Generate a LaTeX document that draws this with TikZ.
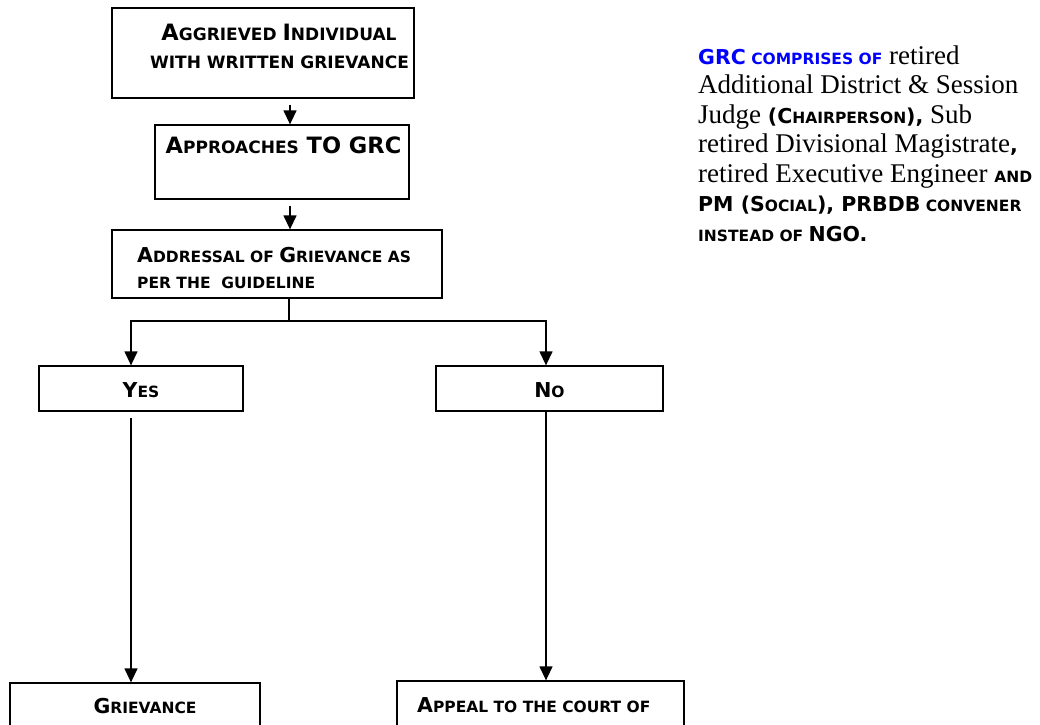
\documentclass[tikz,border=0pt]{standalone}
\usepackage{fontspec}
\setmainfont{Liberation Serif}
\newfontfamily\vbfam{DejaVu Sans}
\usetikzlibrary{arrows.meta}
\newcommand\V{\vbfam\bfseries}
\newcommand\fc[1]{{\fontsize{20.5}{24}\selectfont #1}}
\newcommand\sm[1]{{\fontsize{15.5}{18}\selectfont #1}}
\newcommand\fcl[1]{{\fontsize{22.5}{26}\selectfont #1}}
\newcommand\sml[1]{{\fontsize{17}{20}\selectfont #1}}
\definecolor{grcblue}{RGB}{0,0,255}
\tikzset{
  box/.style={draw, line width=1.3pt, inner sep=0pt},
  lbl/.style={inner sep=0pt, font=\V},
  rtxt/.style={inner sep=0pt, anchor=base west, font=\fontsize{27}{27}\selectfont},
  conn/.style={line width=1.3pt},
  arr/.style={line width=1.3pt, -{Triangle[width=13pt,length=14pt]}}
}
\begin{document}
\begin{tikzpicture}[x=1pt,y=-1pt]
\useasboundingbox (0,0) rectangle (1040,724);
% boxes
\node[box, minimum width=302pt, minimum height=90pt] (b1) at (263,53) {};
\node[box, minimum width=254pt, minimum height=74pt] (b2) at (282,162) {};
\node[box, minimum width=330pt, minimum height=68pt] (b3) at (277,264) {};
\node[box, minimum width=204pt, minimum height=45pt] (yes) at (141,388.5) {};
\node[box, minimum width=227pt, minimum height=45pt] (no) at (549.5,388.5) {};
\node[box, minimum width=250pt, minimum height=60pt] (griev) at (135,713) {};
\node[box, minimum width=287pt, minimum height=60pt] (appeal) at (540.5,711) {};
% box texts
\node[lbl, anchor=base] (t1a) at (279,40) {\fcl{A}\sml{GGRIEVED }\fcl{I}\sml{NDIVIDUAL}};
\node[lbl, anchor=base] (t1b) at (279.5,68) {\sml{WITH WRITTEN GRIEVANCE}};
\node[lbl, anchor=base] (t2) at (283.5,153) {\fcl{A}\sml{PPROACHES}\fcl{ TO GRC}};
\node[lbl, anchor=base west] (t3a) at (137,262) {\fc{A}\sm{DDRESSAL OF }\fc{G}\sm{RIEVANCE AS}};
\node[lbl, anchor=base west] (t3b) at (137,288) {\sm{PER THE \ GUIDELINE}};
\node[lbl, anchor=base] (tyes) at (141,397) {\fc{Y}\sm{ES}};
\node[lbl, anchor=base] (tno) at (549.5,397) {\fc{N}\sm{O}};
\node[lbl, anchor=base] (tgr) at (145,713) {\fc{G}\sm{RIEVANCE}};
\node[lbl, anchor=base west] (tap) at (417,712) {\fc{A}\sm{PPEAL TO THE COURT OF}};
% connectors
\coordinate (ax) at (290,0);
\coordinate (split) at (289,321);
\coordinate (yx) at (131,321);
\coordinate (nx) at (546,321);
\draw[arr, shorten <=6pt] (b1.south -| ax) -- (b2.north -| ax);
\draw[arr, shorten <=6pt] (b2.south -| ax) -- (b3.north -| ax);
\draw[conn] (b3.south -| split) -- (split);
\draw[arr] (split) -| (yes.north -| yx);
\draw[arr] (split) -| (no.north -| nx);
\draw[arr, shorten <=6pt] (yes.south -| yx) -- (griev.north -| yx);
\draw[arr] (no.south -| nx) -- (appeal.north -| nx);
% right text
\node[rtxt] (r1) at (698,64) {{\color{grcblue}\V\fc{GRC}\sm{ COMPRISES OF}} retired};
\node[rtxt] (r2) at (698,93.5) {Additional District \& Session};
\node[rtxt] (r3) at (698,123) {Judge {\V\fc{(C}\sm{HAIRPERSON}\fc{),}} Sub};
\node[rtxt] (r4) at (698,152.5) {retired Divisional Magistrate{\V\fc{,}}};
\node[rtxt] (r5) at (698,182) {retired Executive Engineer {\V\sm{AND}}};
\node[rtxt] (r6) at (698,211.5) {{\V\fc{PM (S}\sm{OCIAL}\fc{), PRBDB}\sm{ CONVENER}}};
\node[rtxt] (r7) at (698,241) {{\V\sm{INSTEAD OF }\fc{NGO.}}};
\end{tikzpicture}
\end{document}
